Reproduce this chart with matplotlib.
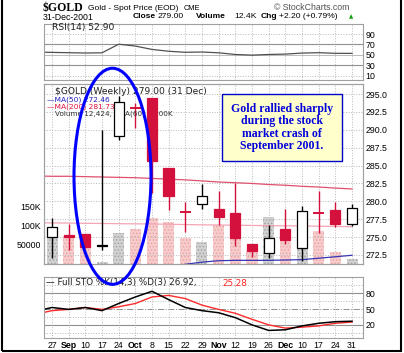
import numpy as np
import matplotlib.pyplot as plt
from matplotlib.patches import Ellipse, Rectangle

plt.rcParams['hatch.linewidth'] = 0.6

# weekly bars, Aug 27 .. Dec 31 2001
weeks = ['27', 'Sep', '10', '17', '24', 'Oct', '8', '15', '22', '29',
         'Nov', '12', '19', '26', 'Dec', '10', '17', '24', '31']
months = ['Sep', 'Oct', 'Nov', 'Dec']

opens = [275.0, 275.3, 275.4, 273.95, 289.2, 293.1, 294.4, 284.6, 278.6, 279.6,
         278.9, 278.3, 274.0, 272.8, 276.1, 273.5, 278.4, 278.75, 276.9]
highs = [277.6, 276.9, 275.5, 290.0, 294.7, 293.8, 294.5, 284.6, 279.9, 282.4,
         281.5, 282.6, 274.0, 276.7, 278.9, 279.3, 281.4, 279.9, 279.6]
lows = [272.1, 273.2, 273.5, 273.2, 288.6, 290.3, 281.2, 278.8, 275.7, 278.9,
        276.7, 273.75, 272.2, 272.1, 274.0, 271.7, 275.6, 276.4, 276.5]
closes = [276.4, 275.0, 273.6, 273.75, 293.9, 293.0, 285.6, 280.7, 278.5, 280.8,
          277.8, 274.9, 273.1, 274.9, 274.6, 278.6, 278.3, 276.8, 279.0]
volume = [86000, 72000, 55000, 5000, 81000, 91000, 120000, 109000, 69000, 57000,
          102000, 70000, 34000, 122000, 64000, 92000, 86000, 31000, 12424]

# indicator lines start one week earlier (Aug 20)
ma50 = [266.9, 267.2, 267.5, 267.8, 268.1, 268.6, 269.1, 269.6, 270.6, 271.2,
        271.5, 271.7, 271.75, 271.75, 271.75, 271.8, 271.85, 272.05, 272.25, 272.46]
ma200 = [283.55, 283.5, 283.5, 283.45, 283.4, 283.35, 283.3, 283.2, 283.1, 283.0,
         282.85, 282.7, 282.6, 282.5, 282.35, 282.25, 282.1, 282.0, 281.85, 281.73]
vol_ema = [107500, 107000, 106600, 106000, 105500, 105000, 104600, 104200, 103500, 102800,
           102000, 101600, 101000, 100400, 100000, 99400, 99000, 98400, 97800, 97000]
rsi = [55.5, 54.8, 54.2, 53.6, 54.0, 70.5, 67.0, 60.5, 57.0, 55.0,
       55.5, 54.0, 50.8, 49.5, 50.8, 51.5, 53.5, 54.2, 53.0, 52.9]
sto_k = [46, 53, 49.4, 53, 47, 60.6, 73, 83.8, 68, 53,
         47, 43, 33.7, 20, 9.4, 10.6, 18, 23, 26, 26.92]
sto_d = [40, 47, 49.4, 53, 49.4, 54.4, 60.6, 73, 76, 70,
         57.5, 49.4, 42, 30.6, 20, 13.8, 15.6, 18, 23, 25.28]

x = np.arange(len(weeks))
xl = np.arange(-1, len(weeks))

W, H = 404.0, 353.0
fig = plt.figure(figsize=(W / 100, H / 100), dpi=100)


def box(l, t, r, b):
    return [l / W, 1 - b / H, (r - l) / W, (b - t) / H]


def ftext(px, py, s, **kw):
    fig.text(px / W, 1 - py / H, s, va='center', **kw)


ax_rsi = fig.add_axes(box(44, 24, 363, 80))
ax_vol = fig.add_axes(box(44, 84, 363, 264))
ax = ax_vol.twinx()
ax_sto = fig.add_axes(box(44, 277, 363, 338))
ax.set_zorder(5)
ax.patch.set_visible(False)

grid_kw = dict(color='#b8b8b8', ls=':', lw=0.7)
tick_font = dict(family='Liberation Sans', size=6.3)

for a in (ax_rsi, ax_vol, ax, ax_sto):
    a.set_xlim(-0.48, 18.66)
    for s in a.spines.values():
        s.set_color('#a0a0a0')
        s.set_linewidth(0.8)
    a.tick_params(length=0)

# ---- RSI panel
ax_rsi.set_ylim(1.7, 109.4)
for v in (10, 90):
    ax_rsi.axhline(v, **grid_kw)
for v in (30, 70):
    ax_rsi.axhline(v, color='#909090', lw=0.8)
ax_rsi.axhline(50, color='#b0b0b0', lw=0.6)
for i in x:
    ax_rsi.axvline(i, **grid_kw)
ax_rsi.plot(xl, rsi, color='#505050', lw=0.9)
ax_rsi.set_xticks([])
ax_rsi.yaxis.tick_right()
ax_rsi.set_yticks([10, 30, 50, 70, 90])
ax_rsi.set_yticklabels(['10', '30', '50', '70', '90'], **tick_font)
ax_rsi.tick_params(axis='y', pad=2)
ax_rsi.text(0.025, 0.93, 'RSI(14) 52.90', transform=ax_rsi.transAxes, va='center',
            family='DejaVu Sans', size=6.6, color='#202020')

# ---- volume (behind)
ax_vol.set_ylim(0, 468750)
prev = [closes[0] - 1] + closes[:-1]
up_week = [c >= p for c, p in zip(closes, prev)]
for i in x:
    if up_week[i]:
        fc, hc = '#d2d2d2', '#a0a0a0'
    else:
        fc, hc = '#f7cccc', '#e8a0a0'
    ax_vol.bar(i, volume[i], width=0.66, facecolor=fc, edgecolor=hc, hatch='.....', lw=0)
ax_vol.plot(xl, vol_ema, color='#f3a5b5', lw=0.9)
for i in x:
    ax_vol.axvline(i, zorder=0, **grid_kw)
ax_vol.set_yticks([50000, 100000, 150000])
ax_vol.set_yticklabels(['50000', '100K', '150K'], **tick_font)
ax_vol.tick_params(axis='y', pad=2)

# ---- price
ax.set_ylim(271.24, 296.4)
pticks = [272.5, 275.0, 277.5, 280.0, 282.5, 285.0, 287.5, 290.0, 292.5, 295.0]
for v in pticks:
    ax.axhline(v, zorder=0, **grid_kw)
ax.set_yticks(pticks)
ax.set_yticklabels(['%.1f' % v for v in pticks], **tick_font)
ax.tick_params(axis='y', pad=2)

ax.plot(xl, ma200, color='#e0506e', lw=0.9, zorder=2)
ax.plot(xl, ma50, color='#3535b5', lw=0.9, zorder=2)

red = '#d4103c'
for i in x:
    col = 'black' if up_week[i] else red
    o, c = opens[i], closes[i]
    ax.vlines(i, lows[i], highs[i], color=col, lw=1.0, zorder=3)
    if abs(c - o) < 0.15:
        ax.hlines(c, i - 0.33, i + 0.33, color=col, lw=1.4, zorder=4)
    else:
        fill = 'white' if c > o else col
        ax.bar(i, abs(c - o), bottom=min(o, c), width=0.62, facecolor=fill,
               edgecolor=col, lw=0.9, zorder=4)

ax_vol.set_xticks(x)
ax_vol.set_xticklabels(weeks, **tick_font)
ax_vol.tick_params(axis='x', pad=3.2)
for t in ax_vol.get_xticklabels():
    if t.get_text() in months:
        t.set_fontweight('bold')
ax.set_xticks([])

# legend lines
ax.text(0.035, 0.96, '$GOLD (Weekly) 279.00 (31 Dec)', transform=ax.transAxes,
        va='center', family='DejaVu Sans', size=6.6, color='#202020')
ax.text(0.01, 0.915, '\u2014MA(50) 272.46', transform=ax.transAxes, va='center',
        family='DejaVu Sans', size=5.4, color='#2020c0')
ax.text(0.01, 0.875, '\u2014MA(200) 281.73', transform=ax.transAxes, va='center',
        family='DejaVu Sans', size=5.4, color='#e0103c')
ax.text(0.035, 0.833, 'Volume 12,424, EMA(60) 97.00K', transform=ax.transAxes,
        va='center', family='DejaVu Sans', size=5.2, color='#303030')

# annotation
ax.text(13.8, 290.3, 'Gold rallied sharply\nduring the stock\nmarket crash of\nSeptember 2001.',
        ha='center', va='center', family='Liberation Serif', weight='bold', size=8.5,
        color='#0000dd', linespacing=1.05, zorder=8,
        bbox=dict(boxstyle='square,pad=0.75', fc='#ffffcc', ec='#0000cc', lw=1.0))

# ---- stochastics
ax_sto.set_ylim(-5, 111)
for v in (5, 35, 65, 95):
    ax_sto.axhline(v, **grid_kw)
for v in (20, 80):
    ax_sto.axhline(v, color='#909090', lw=0.8)
ax_sto.axhline(50, color='#909090', lw=0.7, ls='-.')
for i in x:
    ax_sto.axvline(i, **grid_kw)
ax_sto.plot(xl, sto_d, color='#ff2a2a', lw=1.0)
ax_sto.plot(xl, sto_k, color='black', lw=1.1)
ax_sto.yaxis.tick_right()
ax_sto.set_yticks([20, 50, 80])
ax_sto.set_yticklabels(['20', '50', '80'], **tick_font)
ax_sto.tick_params(axis='y', pad=2)
ax_sto.set_xticks(x)
ax_sto.set_xticklabels(weeks, **tick_font)
ax_sto.tick_params(axis='x', pad=1.8)
for t in ax_sto.get_xticklabels():
    if t.get_text() in months:
        t.set_fontweight('bold')
ftext(46, 283, '\u2014 Full STO %K(14,3) %D(3) 26.92,', family='DejaVu Sans', size=6.3,
      color='#202020')
ftext(222, 283, '25.28', family='DejaVu Sans', size=6.3, color='#ff2020')

# blue ellipse marking the September rally
ax.add_patch(Ellipse((3.63, 283.5), 4.62, 30.2, fill=False, ec='#0000ff', lw=2.2,
                     clip_on=False, zorder=9))

# ---- header
ftext(43, 8, '$GOLD', family='Liberation Serif', weight='bold', size=8.5)
ftext(88, 8, 'Gold - Spot Price (EOD)', family='Liberation Sans', size=6.0)
ftext(184, 8.5, 'CME', family='Liberation Sans', size=5.3)
ftext(274, 8, '\u00a9 StockCharts.com', family='Liberation Sans', size=6.3, color='#505050')
ftext(43, 17, '31-Dec-2001', family='Liberation Sans', size=6.3)
ftext(133, 17, 'Close', family='Liberation Sans', weight='bold', size=6.0)
ftext(158, 17, '279.00', family='Liberation Sans', size=6.1)
ftext(196, 17, 'Volume', family='Liberation Sans', weight='bold', size=6.0)
ftext(234, 17, '12.4K', family='Liberation Sans', size=6.1)
ftext(261, 17, 'Chg', family='Liberation Sans', weight='bold', size=6.0)
ftext(279, 17, '+2.20 (+0.79%)', family='Liberation Sans', size=6.1)
ftext(349, 17, '\u25b2', family='DejaVu Sans', size=4, color='#10a010')

# outer frame
fig.add_artist(Rectangle((1.5 / W, 2.5 / H), 399 / W, 1.0, transform=fig.transFigure,
                         fill=False, ec='black', lw=1.5))

fig.savefig('out.png', dpi=100)
